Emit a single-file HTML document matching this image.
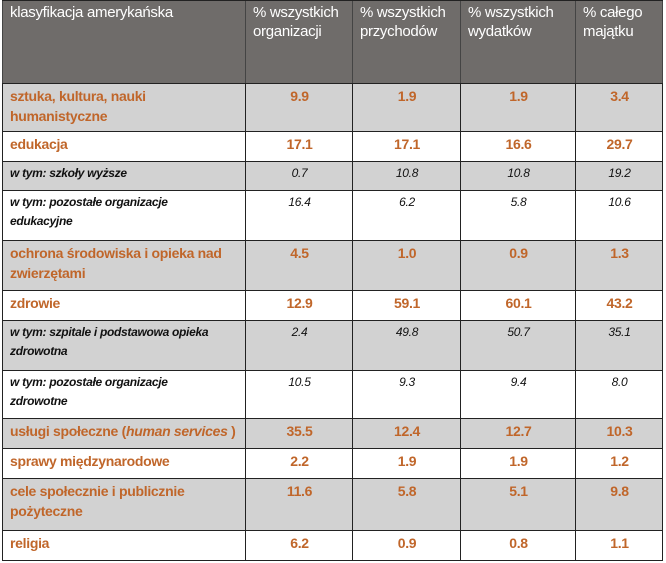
<!DOCTYPE html>
<html><head><meta charset="utf-8"><style>
body{margin:0;background:#fff;width:666px;height:563px;overflow:hidden;font-family:"Liberation Sans",sans-serif;position:relative}
.r{position:absolute;left:2px;width:661px;box-sizing:border-box;border-top:1px solid #222;display:flex}
.r div{box-sizing:border-box;border-left:1px solid #222;height:100%;padding:2px 6px 0 7px;font-size:14px;line-height:20px;letter-spacing:-0.3px}
.r div:last-child{border-right:1px solid #222}
.r div:nth-child(1){width:243px}.r div:nth-child(2){width:107px;text-align:center}.r div:nth-child(3){width:108px;text-align:center}.r div:nth-child(4){width:115px;text-align:center}.r div:nth-child(5){width:88px;text-align:center}
.h{background:#6f6c6a;color:#fff}
.h div{color:#fff;border-color:#444!important;line-height:19px;padding-top:2px;font-size:15px}
.g{background:#d2d2d2}
.o div{color:#c0662a;font-weight:bold}
.s div{color:#111;font-style:italic;font-size:12px;line-height:19px}
.s div:first-child{font-weight:bold}
</style></head><body>
<div class="r h" style="top:0;height:83px"><div style="text-align:left">klasyfikacja amerykańska</div><div style="text-align:left">% wszystkich organizacji</div><div style="text-align:left">% wszystkich przychodów</div><div style="text-align:left">% wszystkich wydatków</div><div style="text-align:left">% całego majątku</div></div>
<div class="r o g" style="top:83px;height:48px"><div>sztuka, kultura, nauki humanistyczne</div><div>9.9</div><div>1.9</div><div>1.9</div><div>3.4</div></div>
<div class="r o" style="top:131px;height:30px"><div>edukacja</div><div>17.1</div><div>17.1</div><div>16.6</div><div>29.7</div></div>
<div class="r s g" style="top:161px;height:29px"><div>w tym: szkoły wyższe</div><div>0.7</div><div>10.8</div><div>10.8</div><div>19.2</div></div>
<div class="r s" style="top:190px;height:50px"><div>w tym: pozostałe organizacje<br>edukacyjne</div><div>16.4</div><div>6.2</div><div>5.8</div><div>10.6</div></div>
<div class="r o g" style="top:240px;height:50px"><div>ochrona środowiska i opieka nad zwierzętami</div><div>4.5</div><div>1.0</div><div>0.9</div><div>1.3</div></div>
<div class="r o" style="top:290px;height:30px"><div>zdrowie</div><div>12.9</div><div>59.1</div><div>60.1</div><div>43.2</div></div>
<div class="r s g" style="top:320px;height:50px"><div>w tym: szpitale i podstawowa opieka<br>zdrowotna</div><div>2.4</div><div>49.8</div><div>50.7</div><div>35.1</div></div>
<div class="r s" style="top:370px;height:48px"><div>w tym: pozostałe organizacje<br>zdrowotne</div><div>10.5</div><div>9.3</div><div>9.4</div><div>8.0</div></div>
<div class="r o g" style="top:418px;height:30px"><div>usługi społeczne (<i>human services</i> )</div><div>35.5</div><div>12.4</div><div>12.7</div><div>10.3</div></div>
<div class="r o" style="top:448px;height:30px"><div>sprawy międzynarodowe</div><div>2.2</div><div>1.9</div><div>1.9</div><div>1.2</div></div>
<div class="r o g" style="top:478px;height:52px"><div>cele społecznie i publicznie pożyteczne</div><div>11.6</div><div>5.8</div><div>5.1</div><div>9.8</div></div>
<div class="r o" style="top:530px;height:31px;border-bottom:1px solid #222"><div>religia</div><div>6.2</div><div>0.9</div><div>0.8</div><div>1.1</div></div>
</body></html>
